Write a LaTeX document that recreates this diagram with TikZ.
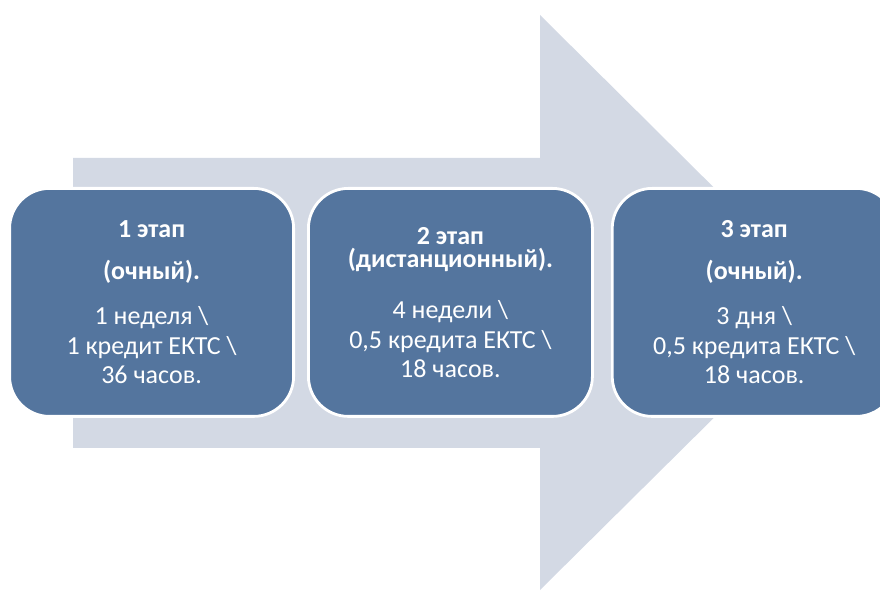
\documentclass[tikz,border=0pt]{standalone}
\usepackage{fontspec}
\setmainfont{Carlito}
\usetikzlibrary{positioning}
\definecolor{arrowgray}{HTML}{D3D9E4}
\definecolor{stageblue}{HTML}{54759E}

\begin{document}
\begin{tikzpicture}
    \useasboundingbox (0,0) rectangle (22,14.75);

    % big background arrow
    \fill[arrowgray] (1.825,3.55) -- (1.825,10.8) -- (13.5,10.8) -- (13.5,14.375)
        -- (20.75,7.18) -- (13.5,0) -- (13.5,3.55) -- cycle;

    \begin{scope}[every node/.style={rectangle,rounded corners=1cm,draw=white,
        line width=2pt,fill=stageblue,text=white,minimum width=7.1cm,
        minimum height=5.7cm,align=center,font=\fontsize{18.5}{21}\selectfont}]
        \node (A) at (3.79,7.19) {\textbf{1 этап}\\[9pt]\textbf{(очный).}\\[11pt]
            1 неделя \textbackslash\\1 кредит ЕКТС \textbackslash\\36 часов.};
        \node[right=0.3cm of A] (B) {\textbf{2 этап}\\[-4pt]\textbf{(дистанционный).}\\[15pt]
            4 недели \textbackslash\\0,5 кредита ЕКТС \textbackslash\\18 часов.};
        \node[right=0.425cm of B] (C) {\textbf{3 этап}\\[9pt]\textbf{(очный).}\\[11pt]
            3 дня \textbackslash\\0,5 кредита ЕКТС \textbackslash\\18 часов.};
    \end{scope}
\end{tikzpicture}
\end{document}
